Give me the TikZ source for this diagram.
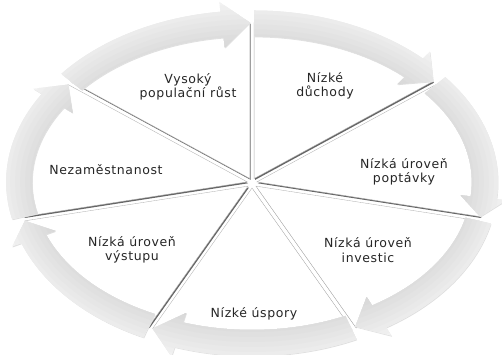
\documentclass[tikz,border=0pt]{standalone}
\usepackage{fontspec}
\setmainfont{DejaVu Sans}
\begin{document}
\begin{tikzpicture}[x=1pt,y=1pt,
  lbl/.style={font=\fontsize{12.5}{14.5}\selectfont\addfontfeatures{LetterSpace=5}, align=center, text=black!85, inner sep=0pt},
  wedgep/.style={insert path={(\ox,\oy) -- ({\ox+229*cos(\ts)},{\oy+156*sin(\ts)}) arc[start angle=\ts, end angle=\te, x radius=229, y radius=156] -- cycle}},
  bandp/.style={insert path={({\ox+241*cos(\ts)},{\oy+168*sin(\ts)}) arc[start angle=\ts, end angle=\tb, x radius=241, y radius=168]
     -- ({\ox+251*cos(\tb)},{\oy+178*sin(\tb)}) -- ({\ox+229*cos(\te)},{\oy+156*sin(\te)})
     -- ({\ox+205*cos(\tb)},{\oy+132*sin(\tb)}) -- ({\ox+215*cos(\tb)},{\oy+142*sin(\tb)})
     arc[start angle=\tb, end angle=\ts, x radius=215, y radius=142] -- cycle}}]
\useasboundingbox (0,0) rectangle (502,355);
% wedge shadows
\foreach \i in {0,...,6}{
  \pgfmathsetmacro\ts{141.4286-\i*51.4286}
  \pgfmathsetmacro\te{\ts-51.4286}
  \pgfmathsetmacro\tm{\ts-25.7143}
  \pgfmathsetmacro\ox{252+5*cos(\tm)+0.9}
  \pgfmathsetmacro\oy{172+5*sin(\tm)-1.4}
  \fill[black!60][wedgep];
}
% wedges
\foreach \i in {0,...,6}{
  \pgfmathsetmacro\ts{141.4286-\i*51.4286}
  \pgfmathsetmacro\te{\ts-51.4286}
  \pgfmathsetmacro\tm{\ts-25.7143}
  \pgfmathsetmacro\ox{252+5*cos(\tm)}
  \pgfmathsetmacro\oy{172+5*sin(\tm)}
  \filldraw[fill=white, draw=black!30, line width=0.35pt][wedgep];
}
% arrow bands
\foreach \i in {0,...,6}{
  \pgfmathsetmacro\ts{141.4286-\i*51.4286}
  \pgfmathsetmacro\te{\ts-51.4286}
  \pgfmathsetmacro\tb{\te+7}
  \pgfmathsetmacro\tm{\ts-25.7143}
  \pgfmathsetmacro\ox{252+5*cos(\tm)}
  \pgfmathsetmacro\oy{172+5*sin(\tm)}
  \fill[black!12, shift={(0.6,-0.9)}][bandp];
  \begin{scope}
    \clip[bandp];
    \foreach \j in {0,...,10}{
      \pgfmathsetmacro\off{23-\j*5}
      \pgfmathsetmacro\shade{5+\j*1.2}
      \pgfmathsetmacro\ax{229+\off}
      \pgfmathsetmacro\ay{156+\off}
      \fill[black!\shade] (\ox,\oy) ellipse [x radius=\ax, y radius=\ay];
    }
  \end{scope}
}
% labels
\node[lbl] (t1) at (188,268) {Vysoký\\populační růst};
\node[lbl] (t2) at (325,269) {Nízké\\důchody};
\node[lbl] (t3) at (404,183) {Nízká úroveň\\poptávky};
\node[lbl] (t4) at (368,105) {Nízká úroveň\\investic};
\node[lbl] (t5) at (254,41) {Nízké úspory};
\node[lbl] (t6) at (132,105) {Nízká úroveň\\výstupu};
\node[lbl] (t7) at (106,185) {Nezaměstnanost};
\end{tikzpicture}
\end{document}
